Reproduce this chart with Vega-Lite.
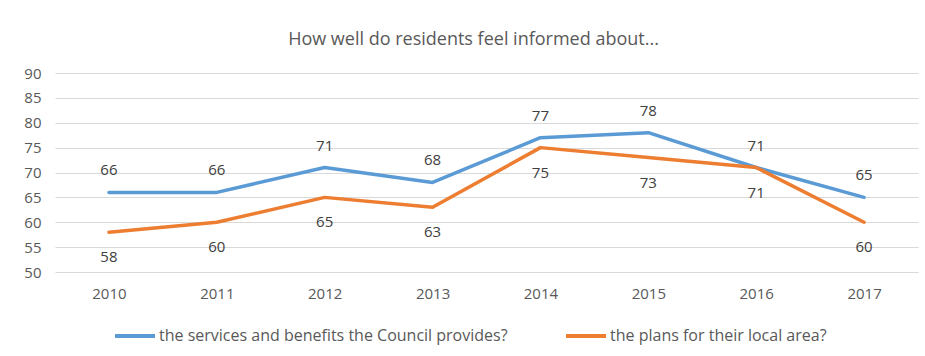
{
  "$schema": "https://vega.github.io/schema/vega-lite/v6.json",
  "width": 863,
  "height": 199,
  "autosize": "none",
  "padding": {"left": 55, "top": 73, "right": 7, "bottom": 84},
  "background": "white",
  "title": {
    "text": "How well do residents feel informed about...",
    "font": "Open Sans",
    "fontSize": 18,
    "fontWeight": "normal",
    "color": "#595959",
    "anchor": "middle",
    "offset": 17,
    "dx": -13
  },
  "data": {
    "values": [
      {"year": "2010", "series": "the services and benefits the Council provides?", "value": 66},
      {"year": "2011", "series": "the services and benefits the Council provides?", "value": 66},
      {"year": "2012", "series": "the services and benefits the Council provides?", "value": 71},
      {"year": "2013", "series": "the services and benefits the Council provides?", "value": 68},
      {"year": "2014", "series": "the services and benefits the Council provides?", "value": 77},
      {"year": "2015", "series": "the services and benefits the Council provides?", "value": 78},
      {"year": "2016", "series": "the services and benefits the Council provides?", "value": 71},
      {"year": "2017", "series": "the services and benefits the Council provides?", "value": 65},
      {"year": "2010", "series": "the plans for their local area?", "value": 58},
      {"year": "2011", "series": "the plans for their local area?", "value": 60},
      {"year": "2012", "series": "the plans for their local area?", "value": 65},
      {"year": "2013", "series": "the plans for their local area?", "value": 63},
      {"year": "2014", "series": "the plans for their local area?", "value": 75},
      {"year": "2015", "series": "the plans for their local area?", "value": 73},
      {"year": "2016", "series": "the plans for their local area?", "value": 71},
      {"year": "2017", "series": "the plans for their local area?", "value": 60}
    ]
  },
  "encoding": {
    "x": {
      "field": "year",
      "type": "ordinal",
      "scale": {"type": "point", "padding": 0.5},
      "axis": {
        "title": null,
        "domain": false,
        "ticks": false,
        "labelAngle": 0,
        "labelPadding": 14,
        "labelFont": "Open Sans",
        "labelFontSize": 15,
        "labelColor": "#595959"
      }
    },
    "y": {
      "field": "value",
      "type": "quantitative",
      "scale": {"domain": [50, 90], "nice": false, "zero": false},
      "axis": {
        "title": null,
        "values": [50, 55, 60, 65, 70, 75, 80, 85, 90],
        "domain": false,
        "ticks": false,
        "labelPadding": 14,
        "labelFont": "Open Sans",
        "labelFontSize": 15,
        "labelColor": "#595959",
        "gridColor": "#D9D9D9",
        "gridWidth": 1
      }
    }
  },
  "layer": [
    {
      "mark": {"type": "line", "strokeWidth": 3.5, "strokeCap": "round", "strokeJoin": "round"},
      "encoding": {
        "color": {
          "field": "series",
          "type": "nominal",
          "sort": null,
          "scale": {
            "domain": ["the services and benefits the Council provides?", "the plans for their local area?"],
            "range": ["#5B9BD5", "#ED7D31"]
          },
          "legend": {
            "title": null,
            "orient": "none",
            "legendX": 58,
            "legendY": 241,
            "direction": "horizontal",
            "symbolType": "stroke",
            "symbolStrokeWidth": 4,
            "symbolSize": 1600,
            "labelFont": "Open Sans",
            "labelFontSize": 16,
            "labelLimit": 0,
            "labelColor": "#595959",
            "labelOffset": 2,
            "columnPadding": 50
          }
        }
      }
    },
    {
      "transform": [{"filter": "datum.series === 'the services and benefits the Council provides?'"}],
      "mark": {"type": "text", "dy": -22, "baseline": "middle", "font": "Open Sans", "fontSize": 15, "color": "#404040"},
      "encoding": {"text": {"field": "value", "type": "quantitative"}}
    },
    {
      "transform": [{"filter": "datum.series === 'the plans for their local area?'"}],
      "mark": {"type": "text", "dy": 25, "baseline": "middle", "font": "Open Sans", "fontSize": 15, "color": "#404040"},
      "encoding": {"text": {"field": "value", "type": "quantitative"}}
    }
  ],
  "config": {"view": {"stroke": null}}
}
